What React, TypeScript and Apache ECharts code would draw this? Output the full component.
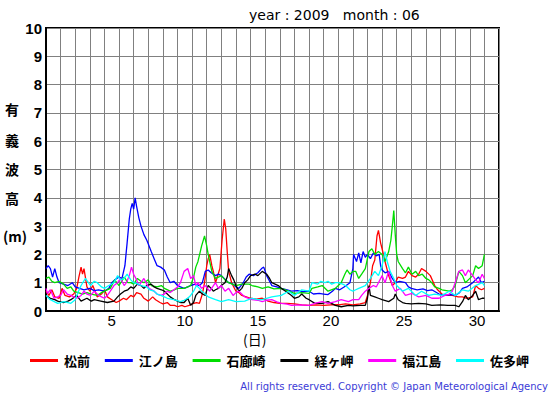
import React, { useEffect, useRef } from "react";
import * as echarts from "echarts";

const seriesNames = ["松前", "江ノ島", "石廊崎", "経ヶ岬", "福江島", "佐多岬"];
const seriesColors = ["#ff0000", "#0000ff", "#00dd00", "#000000", "#ff00ff", "#00ffff"];
const dayCategories = Array.from({ length: 31 }, (_, i) => String(i + 1));
const yTicks = [0, 10, 1];

// [day (0 = June 1 00:00), significant wave height m]
const matsumae: [number, number][] = [[0,0.7],[0.2,0.55],[0.4,0.75],[0.6,0.5],[0.9,0.45],[1.1,0.8],[1.3,0.55],[1.6,0.5],[1.9,0.6],[2.1,0.8],[2.25,1.2],[2.4,1.55],[2.5,1.3],[2.6,1.5],[2.8,0.85],[3.0,0.7],[3.2,0.9],[3.5,0.5],[3.8,0.6],[4.0,0.75],[4.2,0.5],[4.5,0.4],[4.8,0.3],[5.0,0.35],[5.3,0.45],[5.5,0.4],[5.8,0.55],[6.0,0.5],[6.2,0.65],[6.5,0.6],[6.7,0.45],[7.0,0.35],[7.3,0.5],[7.5,0.4],[7.8,0.3],[8.0,0.25],[8.3,0.3],[8.5,0.2],[8.8,0.2],[9.0,0.15],[9.3,0.2],[9.5,0.15],[9.8,0.2],[10.0,0.25],[10.3,0.3],[10.5,0.27],[10.7,0.6],[10.85,1.0],[11.0,1.6],[11.1,1.85],[11.2,2.0],[11.35,1.6],[11.45,1.4],[11.6,1.0],[11.75,1.25],[11.9,1.5],[12.05,2.5],[12.2,3.25],[12.3,2.9],[12.4,2.1],[12.5,1.4],[12.7,1.0],[13.0,0.7],[13.2,0.65],[13.4,0.55],[13.7,0.5],[14.0,0.45],[14.4,0.42],[14.8,0.45],[15.2,0.35],[15.6,0.3],[16.0,0.27],[16.5,0.27],[17.0,0.25],[17.5,0.22],[18.0,0.2],[18.5,0.22],[19.0,0.2],[19.5,0.22],[20.0,0.22],[20.5,0.25],[21.0,0.22],[21.5,0.25],[21.85,0.3],[22.0,0.55],[22.2,1.0],[22.35,1.6],[22.5,1.8],[22.65,2.65],[22.75,2.85],[22.9,2.4],[23.0,2.2],[23.2,1.75],[23.45,1.25],[23.7,0.9],[23.9,1.0],[24.1,1.2],[24.4,1.15],[24.6,1.2],[24.8,1.4],[25.05,1.25],[25.3,1.2],[25.5,1.3],[25.7,1.5],[26.0,1.4],[26.3,1.25],[26.6,0.9],[26.8,0.75],[27.1,0.6],[27.4,0.55],[27.8,0.55],[28.2,0.5],[28.5,0.5],[28.8,0.45],[29.2,0.5],[29.4,0.9],[29.6,0.8],[29.8,0.75],[30.0,0.8]];

const enoshima: [number, number][] = [[0,1.5],[0.15,1.6],[0.3,1.5],[0.45,1.2],[0.6,1.5],[0.75,1.2],[0.9,1.0],[1.2,0.95],[1.5,0.9],[1.8,1.0],[2.0,0.85],[2.3,0.8],[2.6,0.75],[3.0,0.8],[3.3,0.72],[3.6,0.75],[4.0,0.7],[4.3,0.8],[4.5,1.0],[4.7,1.1],[5.0,1.2],[5.2,1.15],[5.4,1.6],[5.55,2.4],[5.7,3.25],[5.8,3.6],[5.9,3.8],[6.0,3.6],[6.1,4.0],[6.2,3.7],[6.35,3.3],[6.5,3.0],[6.7,2.7],[6.9,2.5],[7.2,2.1],[7.4,1.85],[7.6,1.6],[7.85,1.55],[8.1,1.45],[8.3,1.2],[8.5,1.0],[8.75,1.05],[9.0,0.9],[9.2,0.85],[9.45,0.8],[9.7,0.85],[9.9,0.9],[10.2,0.95],[10.5,0.9],[10.7,1.0],[10.9,1.4],[11.1,1.45],[11.3,1.35],[11.6,1.25],[11.8,1.3],[12.0,1.25],[12.3,1.1],[12.5,1.0],[12.8,0.95],[13.0,0.85],[13.2,0.8],[13.5,1.0],[13.7,1.2],[13.9,1.3],[14.2,1.25],[14.5,1.35],[14.75,1.5],[14.9,1.55],[15.1,1.25],[15.3,1.05],[15.45,0.9],[15.8,0.85],[16.1,0.8],[16.5,0.75],[16.8,0.7],[17.2,0.72],[17.6,0.68],[18.0,0.7],[18.3,0.6],[18.7,0.62],[19.0,0.6],[19.3,0.58],[19.6,0.7],[19.8,0.8],[20.1,0.75],[20.4,0.85],[20.8,1.0],[21.0,1.5],[21.05,2.0],[21.25,1.75],[21.4,2.05],[21.55,1.7],[21.7,2.1],[21.85,1.9],[22.0,2.0],[22.2,1.85],[22.4,2.05],[22.6,1.95],[22.8,2.0],[22.9,1.6],[23.0,1.45],[23.2,1.35],[23.45,1.4],[23.7,1.15],[23.9,1.0],[24.2,1.05],[24.6,1.0],[24.8,0.85],[25.0,0.8],[25.4,0.75],[25.8,0.78],[26.1,0.72],[26.4,0.75],[26.9,0.6],[27.3,0.55],[27.7,0.58],[28.0,0.55],[28.3,0.65],[28.5,0.8],[28.8,0.85],[29.2,1.0],[29.4,1.1],[29.6,1.2],[29.8,1.0],[30.0,1.05]];

const irozaki: [number, number][] = [[0,1.15],[0.2,1.2],[0.4,1.05],[0.6,1.0],[0.9,1.05],[1.2,0.95],[1.45,0.8],[1.7,0.85],[1.9,0.7],[2.2,0.65],[2.5,0.6],[2.8,0.65],[3.1,0.6],[3.5,0.55],[3.8,0.65],[4.0,0.7],[4.4,0.8],[4.7,1.1],[5.0,0.9],[5.35,1.2],[5.6,1.0],[5.8,1.0],[6.0,0.95],[6.25,1.15],[6.5,1.05],[6.7,1.0],[7.0,1.1],[7.2,0.9],[7.6,0.85],[7.9,0.9],[8.1,0.8],[8.5,0.7],[8.8,0.75],[9.0,0.8],[9.45,0.8],[9.7,0.85],[9.9,0.9],[10.1,1.2],[10.25,1.55],[10.4,1.75],[10.65,2.3],[10.85,2.65],[11.0,2.3],[11.1,2.0],[11.2,1.75],[11.35,1.4],[11.6,1.15],[11.8,1.2],[12.0,1.25],[12.25,1.1],[12.5,1.0],[12.75,0.95],[13.0,0.9],[13.4,0.95],[13.9,0.95],[14.1,0.9],[14.5,0.85],[14.8,0.8],[15.2,0.85],[15.6,0.78],[16.1,0.8],[16.6,0.7],[17.0,0.62],[17.5,0.65],[18.0,0.62],[18.2,0.8],[18.6,0.85],[18.9,0.9],[19.3,0.7],[19.8,0.8],[20.2,1.0],[20.45,1.3],[20.6,1.45],[20.8,1.3],[21.0,1.4],[21.2,1.4],[21.4,1.15],[21.6,1.3],[21.85,1.5],[22.1,2.1],[22.3,2.2],[22.5,2.0],[22.75,2.1],[23.0,2.0],[23.2,1.75],[23.45,2.1],[23.6,2.5],[23.7,3.0],[23.8,3.55],[23.9,2.7],[24.0,2.0],[24.1,1.75],[24.4,1.5],[24.6,1.35],[24.8,1.55],[25.05,1.3],[25.3,1.4],[25.5,1.25],[25.75,1.3],[26.0,1.15],[26.2,1.1],[26.4,1.0],[26.6,0.85],[26.9,0.8],[27.1,0.75],[27.4,0.72],[27.6,0.7],[27.8,0.75],[28.0,0.9],[28.25,1.4],[28.5,1.25],[28.7,1.0],[28.9,1.1],[29.2,1.25],[29.4,1.6],[29.6,1.5],[29.85,1.6],[30.0,2.0]];

const kyogamisaki: [number, number][] = [[0,0.55],[0.3,0.45],[0.6,0.4],[0.8,0.35],[1.2,0.3],[1.5,0.35],[1.7,0.4],[2.1,0.55],[2.4,0.35],[2.8,0.45],[3.1,0.35],[3.3,0.4],[3.75,0.35],[4.2,0.3],[4.65,0.35],[4.9,0.5],[5.1,0.6],[5.35,0.7],[5.6,0.75],[5.8,0.85],[6.0,0.8],[6.25,0.95],[6.5,0.9],[6.7,0.8],[6.9,0.9],[7.2,0.95],[7.4,0.85],[7.6,0.8],[7.9,0.75],[8.1,0.7],[8.3,0.6],[8.5,0.5],[8.8,0.4],[9.0,0.35],[9.2,0.3],[9.45,0.3],[9.7,0.45],[9.9,0.2],[10.1,0.3],[10.25,0.55],[10.5,0.7],[10.7,0.6],[10.9,0.55],[11.1,0.9],[11.3,0.8],[11.45,0.7],[11.6,0.75],[11.8,0.8],[12.0,0.9],[12.25,1.0],[12.4,1.2],[12.5,1.5],[12.7,1.25],[12.85,1.1],[13.0,0.9],[13.2,0.7],[13.4,0.8],[13.6,1.0],[13.8,1.1],[14.0,1.25],[14.3,1.3],[14.5,1.25],[14.8,1.4],[15.1,1.3],[15.3,1.15],[15.45,1.0],[15.9,0.9],[16.1,0.8],[16.4,0.7],[16.8,0.55],[17.0,0.45],[17.3,0.5],[17.5,0.6],[17.8,0.45],[18.0,0.4],[18.4,0.27],[18.9,0.27],[19.3,0.33],[19.8,0.2],[20.2,0.15],[20.7,0.2],[21.0,0.18],[21.5,0.2],[21.85,0.2],[22.0,0.45],[22.1,0.9],[22.2,0.55],[22.5,0.5],[22.75,0.45],[23.0,0.4],[23.45,0.33],[23.8,0.45],[23.9,0.6],[24.1,0.4],[24.4,0.3],[24.6,0.27],[25.0,0.25],[25.5,0.27],[26.0,0.25],[26.4,0.2],[27.0,0.22],[27.5,0.2],[28.0,0.2],[28.25,0.15],[28.5,0.33],[28.7,0.55],[28.9,0.4],[29.2,0.55],[29.4,0.7],[29.6,0.4],[29.85,0.45],[30.0,0.45]];

const fukuejima: [number, number][] = [[0,0.8],[0.1,0.62],[0.3,0.75],[0.55,0.45],[0.8,0.5],[1.0,0.55],[1.2,0.75],[1.45,0.6],[1.7,0.55],[1.9,0.5],[2.1,0.45],[2.4,0.55],[2.6,0.7],[2.8,0.6],[3.05,0.55],[3.3,0.7],[3.6,0.55],[3.8,0.5],[4.0,0.45],[4.2,0.55],[4.4,0.7],[4.65,0.9],[4.9,1.0],[5.1,1.15],[5.35,0.9],[5.5,1.0],[5.7,1.25],[5.85,1.55],[6.0,1.3],[6.2,1.1],[6.35,0.9],[6.5,1.0],[6.7,1.15],[6.9,0.95],[7.05,0.8],[7.4,0.7],[7.6,0.6],[7.85,0.55],[8.1,0.6],[8.3,0.7],[8.5,0.65],[8.75,0.75],[9.0,0.85],[9.2,1.0],[9.45,1.4],[9.7,1.5],[9.9,1.15],[10.1,1.25],[10.25,0.9],[10.4,1.0],[10.65,0.8],[10.9,0.9],[11.2,0.7],[11.4,0.85],[11.6,1.0],[11.8,0.8],[12.0,0.9],[12.25,0.7],[12.5,0.8],[12.8,0.55],[13.0,0.65],[13.2,0.7],[13.6,0.5],[14.1,0.4],[14.5,0.38],[14.8,0.33],[15.1,0.38],[15.45,0.4],[15.8,0.32],[16.1,0.27],[16.5,0.24],[16.8,0.2],[17.4,0.22],[18.0,0.2],[18.4,0.27],[18.9,0.33],[19.3,0.27],[19.8,0.33],[20.2,0.4],[20.7,0.33],[21.0,0.4],[21.4,0.4],[21.6,0.55],[21.85,0.7],[22.1,0.8],[22.4,0.9],[22.6,0.85],[22.75,1.0],[23.0,1.25],[23.2,1.0],[23.45,1.4],[23.6,1.1],[23.7,0.9],[23.9,0.7],[24.25,0.8],[24.6,0.55],[25.05,0.62],[25.5,0.5],[26.0,0.55],[26.4,0.45],[26.9,0.45],[27.3,0.55],[27.6,0.6],[27.8,0.7],[28.0,1.0],[28.25,1.4],[28.5,1.45],[28.7,1.25],[28.9,1.45],[29.2,1.25],[29.4,1.1],[29.6,1.0],[29.85,1.3],[30.0,1.15]];

const satamisaki: [number, number][] = [[0,0.55],[0.3,0.4],[0.6,0.32],[0.8,0.27],[1.2,0.33],[1.5,0.3],[1.7,0.27],[2.0,0.4],[2.1,0.55],[2.4,0.9],[2.7,1.15],[2.9,1.0],[3.05,0.9],[3.3,1.05],[3.5,1.0],[3.8,0.85],[4.0,0.8],[4.3,0.9],[4.65,1.0],[4.9,1.25],[5.1,1.1],[5.35,1.15],[5.55,1.3],[5.8,1.1],[6.0,1.0],[6.3,0.95],[6.5,0.9],[6.9,0.85],[7.1,0.75],[7.4,0.7],[7.6,0.6],[7.85,0.55],[8.1,0.5],[8.3,0.45],[8.75,0.4],[9.2,0.33],[9.45,0.38],[9.7,0.45],[9.9,0.55],[10.1,0.7],[10.3,0.9],[10.5,0.8],[10.65,0.7],[10.9,0.6],[11.1,0.5],[11.6,0.4],[12.0,0.33],[12.5,0.4],[13.0,0.33],[13.6,0.35],[14.1,0.45],[14.5,0.4],[14.8,0.4],[15.45,0.5],[16.1,0.55],[16.6,0.7],[17.0,0.55],[17.5,0.75],[18.0,0.7],[18.2,1.0],[18.6,0.95],[18.8,1.05],[19.1,1.0],[19.3,1.05],[19.55,0.95],[19.8,1.0],[20.0,1.0],[20.3,0.95],[20.5,0.9],[20.8,0.75],[21.0,0.7],[21.2,0.75],[21.4,0.8],[21.85,0.9],[22.2,1.15],[22.5,1.4],[22.75,1.25],[23.0,1.6],[23.2,2.1],[23.35,1.75],[23.55,1.4],[23.8,1.15],[24.0,0.9],[24.4,0.7],[24.8,0.8],[25.3,0.55],[25.7,0.7],[26.2,0.55],[26.6,0.6],[27.1,0.55],[27.6,0.7],[28.0,0.55],[28.5,0.75],[28.9,0.7],[29.4,0.9],[29.85,1.0],[30.0,0.9]];

const allSeries = [matsumae, enoshima, irozaki, kyogamisaki, fukuejima, satamisaki];
const yAxisChars = ["有", "義", "波", "高", "(m)"];

export default function App() {
  const ref = useRef<HTMLDivElement>(null);
  useEffect(() => {
    if (!ref.current) return;
    const chart = echarts.init(ref.current, null, { renderer: "svg" });
    const cjk = "'Noto Sans CJK JP', sans-serif";
    const sans = "'Liberation Sans', Arial, sans-serif";
    const dejavu = "'DejaVu Sans', sans-serif";
    const yCharTops = [102, 133, 162, 191, 229];
    chart.setOption({
      animation: false,
      backgroundColor: "#ffffff",
      grid: { left: 46, right: 56, top: 28, bottom: 84, show: true, borderColor: "#000", borderWidth: 2, backgroundColor: "transparent" },
      xAxis: [
        {
          type: "category",
          data: dayCategories,
          boundaryGap: true,
          position: "bottom",
          axisLine: { show: true, lineStyle: { color: "#000", width: 2 } },
          axisTick: { show: false },
          splitLine: { show: true, interval: 0, lineStyle: { color: "#808080", width: 1 } },
          axisLabel: {
            interval: 0,
            margin: 2,
            fontSize: 15,
            fontFamily: sans,
            color: "#000",
            formatter: (v: string) => (Number(v) % 5 === 0 ? v : ""),
          },
        },
        { type: "value", min: 0, max: 31, show: false },
      ],
      yAxis: {
        type: "value",
        min: yTicks[0],
        max: yTicks[1],
        interval: yTicks[2],
        axisLine: { show: true, lineStyle: { color: "#000", width: 2 } },
        axisTick: { show: false },
        splitLine: { show: true, lineStyle: { color: "#808080", width: 1 } },
        axisLabel: { fontSize: 15, fontWeight: "bold", fontFamily: sans, color: "#000", margin: 4 },
      },
      legend: {
        left: 25,
        top: 349,
        itemWidth: 28,
        itemHeight: 3,
        itemGap: 14.8,
        icon: "rect",
        data: seriesNames,
        textStyle: { fontSize: 13, fontWeight: "bold", fontFamily: cjk, color: "#000", width: 42, padding: [0, 0, 0, 1] },
      },
      graphic: [
        { type: "text", left: 249, top: 8, style: { text: "year : 2009   month : 06", fontSize: 14, fontFamily: dejavu, fill: "#000" } },
        ...yAxisChars.map((c, i) => ({
          type: "text",
          left: i === 4 ? 3 : 5,
          top: yCharTops[i],
          style: { text: c, fontSize: 14, fontWeight: "bold", fontFamily: cjk, fill: "#000" },
        })),
        { type: "text", left: 243, top: 332, style: { text: "(日)", fontSize: 14, fontFamily: cjk, fill: "#000" } },
        { type: "text", right: 7, top: 381, style: { text: "All rights reserved. Copyright © Japan Meteorological Agency", fontSize: 10, fontFamily: dejavu, fill: "#3b3bd6" } },
      ],
      series: allSeries.map((d, i) => ({
        name: seriesNames[i],
        type: "line",
        xAxisIndex: 1,
        yAxisIndex: 0,
        data: d,
        showSymbol: false,
        symbol: "none",
        color: seriesColors[i],
        lineStyle: { color: seriesColors[i], width: 1.3 },
      })),
    });
    return () => chart.dispose();
  }, []);
  return <div ref={ref} style={{ position: "fixed", left: 0, top: 0, width: 555, height: 395 }} />;
}
